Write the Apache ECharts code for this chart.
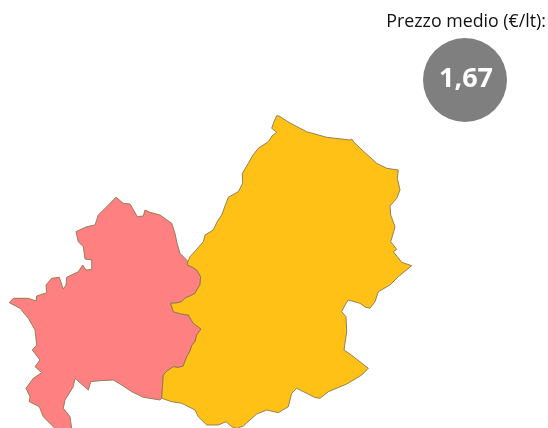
<!DOCTYPE html>
<html><head><meta charset="utf-8">
<style>html,body{margin:0;padding:0;background:#fff}#c{width:548px;height:428px}</style>
<script src="https://cdn.jsdelivr.net/npm/echarts@6/dist/echarts.min.js"></script>
</head><body><div id="c"></div>
<script>
const provinceNames = ['Isernia','Campobasso'];
const priceLabel = 'Prezzo medio (€/lt):';
const priceValue = '1,67';
// Outlines (map units, y down)
const sharedBorder = [[161.7,398.3],[163.3,375],[167,371],[173.3,366.7],[178,367.5],[183.3,366],[185,361],[186.7,356.7],[190,351],[192,345],[195,341.7],[196.7,335],[201,329],[197,326],[193.3,323.3],[188.3,315],[181,314],[173.3,311.7],[170.7,303.3],[176,303],[181.7,301.7],[185,298],[190,296],[195,293.3],[198,288],[200,285],[200.7,276.7],[196.7,270],[192,267],[187.3,265]];
const campobassoOuter = [[187.3,263],[190,256.7],[197,249],[203.3,241.7],[205,235],[213.3,230],[217,222],[221.7,215],[225,206],[228.3,197.3],[238.3,191.7],[242.7,183.3],[242.3,173.3],[248.3,163.3],[253,155],[258.3,148.3],[268.3,141.7],[272,136],[276.7,132.3],[271.7,128.3],[274,121.7],[276.7,115.7],[279,116],[290,123],[306.7,131.7],[326.7,137.3],[350,140],[351.7,139],[354,142.3],[360,148],[365,152.7],[371,158],[376.7,163.3],[386.7,168.3],[398.3,170],[397.3,178.3],[400,190],[396.7,198.3],[390,206],[390.7,215],[395,226.7],[393,234],[390.7,241.7],[396.7,249.3],[393.3,251.7],[401.7,262.3],[411.7,265.7],[398.3,276.7],[390,285],[378.3,291.7],[375,301.7],[370,308.3],[365,307],[360,303.3],[348.3,300],[345,305],[341.7,311.7],[346,316.7],[346.7,331.7],[344,350],[350,354],[359,361],[368.3,368.3],[361.7,375],[346.7,384],[328.3,391.7],[320,398.3],[315,397.5],[310,395],[296.7,388.3],[291.7,393.3],[288.3,406.7],[278.3,412.7],[266.7,410],[256.7,414],[250,420],[243.3,426],[237,428.5],[231.7,426.7],[226,421.7],[218.3,425],[206.7,425],[198.3,416.7],[195,410],[181.7,403.3],[171.7,401.7]];
const iserniaOuter = [[188.3,261.7],[180,253.3],[177,243],[175,233.3],[171.7,223.3],[160,215],[150,212.3],[145,210],[143.3,216],[137.3,216.7],[133,209],[130,204],[123.3,203.3],[116,197.3],[106.7,206.7],[98.3,215],[95,225],[86.7,226.7],[76,231.7],[78.3,241.7],[83.3,246.7],[85,259],[91.7,260],[91.7,269.3],[86,270],[82.7,265],[78.3,271.7],[66.7,277.3],[66,285],[63.3,289],[59.3,277.3],[51.7,278.3],[46,285],[46.7,292.7],[36.7,296],[36,301],[28.3,298.3],[13.3,298.3],[9.3,302.7],[20,308.3],[28.3,318.3],[35,330],[36.7,345],[32.3,350],[40,360],[35,366.7],[41.7,372.7],[33.3,378.3],[26,388.3],[30,396.7],[29.3,401.7],[39.3,406.7],[43.3,416.7],[55,428.5],[71.7,428.5],[70,416.7],[63.3,408.3],[65,400],[73.3,386.7],[75,378.3],[88.3,390],[90.7,381.7],[100,380.7],[113.3,380],[121.7,385],[131.7,391.7],[143.3,397.3],[160,400]];

const ring = pts => pts.concat([pts[0]]);
const geoJson = {type:'FeatureCollection',features:[
  {type:'Feature',properties:{name:provinceNames[0]},geometry:{type:'Polygon',coordinates:[ring(iserniaOuter.concat(sharedBorder))]}},
  {type:'Feature',properties:{name:provinceNames[1]},geometry:{type:'Polygon',coordinates:[ring(campobassoOuter.concat(sharedBorder))]}}
]};
echarts.registerMap('molise', geoJson);

const chart = echarts.init(document.getElementById('c'), null, {renderer:'canvas'});
chart.setOption({
  animation:false,
  backgroundColor:'#ffffff',
  series:[{
    type:'map', map:'molise', silent:true, roam:false,
    projection:{project:p=>[p[0],p[1]],unproject:p=>[p[0],p[1]]},
    left:9.3, top:115.7, width:402.4, height:312.8,
    label:{show:false},
    itemStyle:{borderColor:'#8a7650',borderWidth:0.9},
    data:[
      {name:provinceNames[0],value:1,itemStyle:{areaColor:'#FF8080'}},
      {name:provinceNames[1],value:1,itemStyle:{areaColor:'#FFC116'}}
    ]
  }],
  graphic:[
    {type:'circle',shape:{cx:465,cy:80,r:42},style:{fill:'#7F7F7F'}},
    {type:'text',x:466,y:79,style:{text:priceValue,fill:'#fff',font:'bold 27px "Open Sans", sans-serif',align:'center',verticalAlign:'middle'}},
    {type:'text',x:546,y:22,style:{text:priceLabel,fill:'#111',font:'17.8px "Open Sans", sans-serif',align:'right',verticalAlign:'middle'}}
  ]
});
</script></body></html>
